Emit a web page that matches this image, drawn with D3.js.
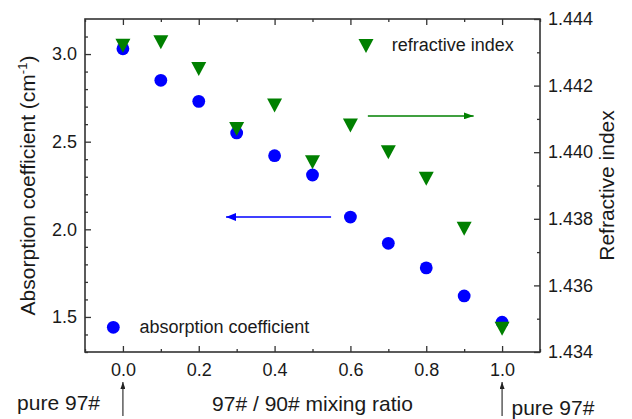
<!DOCTYPE html>
<html>
<head>
<meta charset="utf-8">
<script src="https://cdn.jsdelivr.net/npm/d3@7"></script>
<style>
  body { margin: 0; background: #fff; }
  svg { display: block; }
  text { font-family: Arial, "Liberation Sans", sans-serif; fill: #1a1a1a; }
</style>
</head>
<body>
<svg id="chart" width="632" height="419"></svg>
<script>
// Mixing ratio of 97# in a 97#/90# blend
const mixingRatio = [0.0, 0.1, 0.2, 0.3, 0.4, 0.5, 0.6, 0.7, 0.8, 0.9, 1.0];
// Absorption coefficient, cm^-1 (left axis)
const absorption = [3.03, 2.85, 2.73, 2.55, 2.42, 2.31, 2.07, 1.92, 1.78, 1.62, 1.47];
// Refractive index (right axis)
const refractiveIndex = [1.4432, 1.4433, 1.4425, 1.4407, 1.4414, 1.4397, 1.4408, 1.4400, 1.4392, 1.4377, 1.4347];

const xMajorTicks = [0.0, 0.2, 0.4, 0.6, 0.8, 1.0];
const xMinorTicks = [-0.1, 0.1, 0.3, 0.5, 0.7, 0.9, 1.1];
const leftMajorTicks = [1.5, 2.0, 2.5, 3.0];
const leftMinorTicks = [1.3, 1.4, 1.6, 1.7, 1.8, 1.9, 2.1, 2.2, 2.3, 2.4, 2.6, 2.7, 2.8, 2.9, 3.1];
const rightMajorTicks = [1.434, 1.436, 1.438, 1.440, 1.442, 1.444];
const rightMinorTicks = [1.435, 1.437, 1.439, 1.441, 1.443];

const W = 632, H = 419;
const margin = { top: 19, right: 92, bottom: 67, left: 85 };
const iw = W - margin.left - margin.right;
const ih = H - margin.top - margin.bottom;

const svg = d3.select("#chart");
const g = svg.append("g").attr("transform", `translate(${margin.left},${margin.top})`);

const x = d3.scaleLinear().domain([-0.1, 1.1]).range([0, iw]);
const yL = d3.scaleLinear().domain([1.3, 3.2]).range([ih, 0]);
const yR = d3.scaleLinear().domain([1.434, 1.444]).range([ih, 0]);

const axisColor = "#333";
const MAJ = 6, MIN = 3;

function styleAxis(sel) {
  sel.select(".domain").remove();
  sel.selectAll(".tick line").attr("stroke", axisColor).attr("stroke-width", 1.3);
  sel.selectAll(".tick text").style("font-size", "18px").attr("fill", "#1a1a1a");
}

// bottom axis: major with labels, minor without (ticks point inward)
g.append("g").attr("transform", `translate(0,${ih})`)
  .call(d3.axisBottom(x).tickValues(xMajorTicks).tickFormat(d3.format(".1f")).tickSize(-MAJ).tickPadding(11))
  .call(styleAxis);
g.append("g").attr("transform", `translate(0,${ih})`)
  .call(d3.axisBottom(x).tickValues(xMinorTicks).tickFormat("").tickSize(-MIN))
  .call(styleAxis);
// top mirror ticks
g.append("g")
  .call(d3.axisTop(x).tickValues(xMajorTicks).tickFormat("").tickSize(-MAJ))
  .call(styleAxis);
g.append("g")
  .call(d3.axisTop(x).tickValues(xMinorTicks).tickFormat("").tickSize(-MIN))
  .call(styleAxis);

// left axis
g.append("g")
  .call(d3.axisLeft(yL).tickValues(leftMajorTicks).tickFormat(d3.format(".1f")).tickSize(-MAJ).tickPadding(8))
  .call(styleAxis);
g.append("g")
  .call(d3.axisLeft(yL).tickValues(leftMinorTicks).tickFormat("").tickSize(-MIN))
  .call(styleAxis);

// right axis
g.append("g").attr("transform", `translate(${iw},0)`)
  .call(d3.axisRight(yR).tickValues(rightMajorTicks).tickFormat(d3.format(".3f")).tickSize(-MAJ).tickPadding(8))
  .call(styleAxis);
g.append("g").attr("transform", `translate(${iw},0)`)
  .call(d3.axisRight(yR).tickValues(rightMinorTicks).tickFormat("").tickSize(-MIN))
  .call(styleAxis);

// frame
g.append("rect").attr("width", iw).attr("height", ih)
  .attr("fill", "none").attr("stroke", axisColor).attr("stroke-width", 1.6);

const blue = "#0000ff", green = "#008000";
const tri = "M-7.5,-7L7.5,-7L0,7Z";

// absorption coefficient (circles)
g.append("g").selectAll("circle")
  .data(mixingRatio.map((m, i) => ({ m, v: absorption[i] })))
  .join("circle")
  .attr("cx", d => x(d.m)).attr("cy", d => yL(d.v))
  .attr("r", 6.4).attr("fill", blue);

// refractive index (down triangles), drawn on top
g.append("g").selectAll("path")
  .data(mixingRatio.map((m, i) => ({ m, v: refractiveIndex[i] })))
  .join("path")
  .attr("d", tri)
  .attr("transform", d => `translate(${x(d.m)},${yR(d.v)})`)
  .attr("fill", green);

// arrow markers
const defs = svg.append("defs");
function marker(id, color, w, h) {
  defs.append("marker").attr("id", id)
    .attr("viewBox", `0 0 ${w} ${h}`).attr("refX", w).attr("refY", h / 2)
    .attr("markerWidth", w).attr("markerHeight", h).attr("markerUnits", "userSpaceOnUse")
    .attr("orient", "auto")
    .append("path").attr("d", `M0,0L${w},${h / 2}L0,${h}Z`).attr("fill", color);
}
marker("ahBlue", blue, 10, 8);
marker("ahGreen", green, 10, 7);
marker("ahBlack", "#222", 7, 5);

// arrow pointing to the left axis
g.append("line")
  .attr("x1", x(0.549)).attr("x2", x(0.272))
  .attr("y1", yL(2.07)).attr("y2", yL(2.07))
  .attr("stroke", blue).attr("stroke-width", 1.5).attr("marker-end", "url(#ahBlue)");
// arrow pointing to the right axis
g.append("line")
  .attr("x1", x(0.646)).attr("x2", x(0.925))
  .attr("y1", yR(1.44109)).attr("y2", yR(1.44109))
  .attr("stroke", green).attr("stroke-width", 1.5).attr("marker-end", "url(#ahGreen)");

// legend
const legend = g.append("g");
legend.append("circle").attr("cx", 113.3 - margin.left).attr("cy", 327.3 - margin.top)
  .attr("r", 6.4).attr("fill", blue);
legend.append("text").attr("x", 139.5 - margin.left).attr("y", 333 - margin.top)
  .style("font-size", "18px").text("absorption coefficient");
legend.append("path").attr("d", tri)
  .attr("transform", `translate(${366 - margin.left},${46 - margin.top})`).attr("fill", green);
legend.append("text").attr("x", 391.7 - margin.left).attr("y", 50.5 - margin.top)
  .style("font-size", "18px").text("refractive index");

// axis titles
svg.append("text")
  .attr("transform", `translate(35,${margin.top + ih / 2}) rotate(-90)`)
  .attr("text-anchor", "middle").style("font-size", "21px")
  .call(t => {
    t.append("tspan").text("Absorption coefficient (cm");
    t.append("tspan").attr("dy", -8).style("font-size", "13px").text("-1");
    t.append("tspan").attr("dy", 8).text(")");
  });
svg.append("text")
  .attr("transform", `translate(614,${margin.top + ih / 2}) rotate(-90)`)
  .attr("text-anchor", "middle").style("font-size", "21px")
  .text("Refractive index");
svg.append("text")
  .attr("x", margin.left + iw / 2).attr("y", 411)
  .attr("text-anchor", "middle").style("font-size", "21px")
  .text("97# / 90# mixing ratio");

// end-member annotations below the axis
const ann = svg.append("g");
[0.0, 1.0].forEach(m => {
  ann.append("line")
    .attr("x1", margin.left + x(m)).attr("x2", margin.left + x(m))
    .attr("y1", 416).attr("y2", 382)
    .attr("stroke", "#333").attr("stroke-width", 1.2).attr("marker-end", "url(#ahBlack)");
});
ann.append("text").attr("x", 100).attr("y", 410).attr("text-anchor", "end")
  .style("font-size", "21px").text("pure 97#");
ann.append("text").attr("x", 511.5).attr("y", 415)
  .style("font-size", "21px").text("pure 97#");
</script>
</body>
</html>
